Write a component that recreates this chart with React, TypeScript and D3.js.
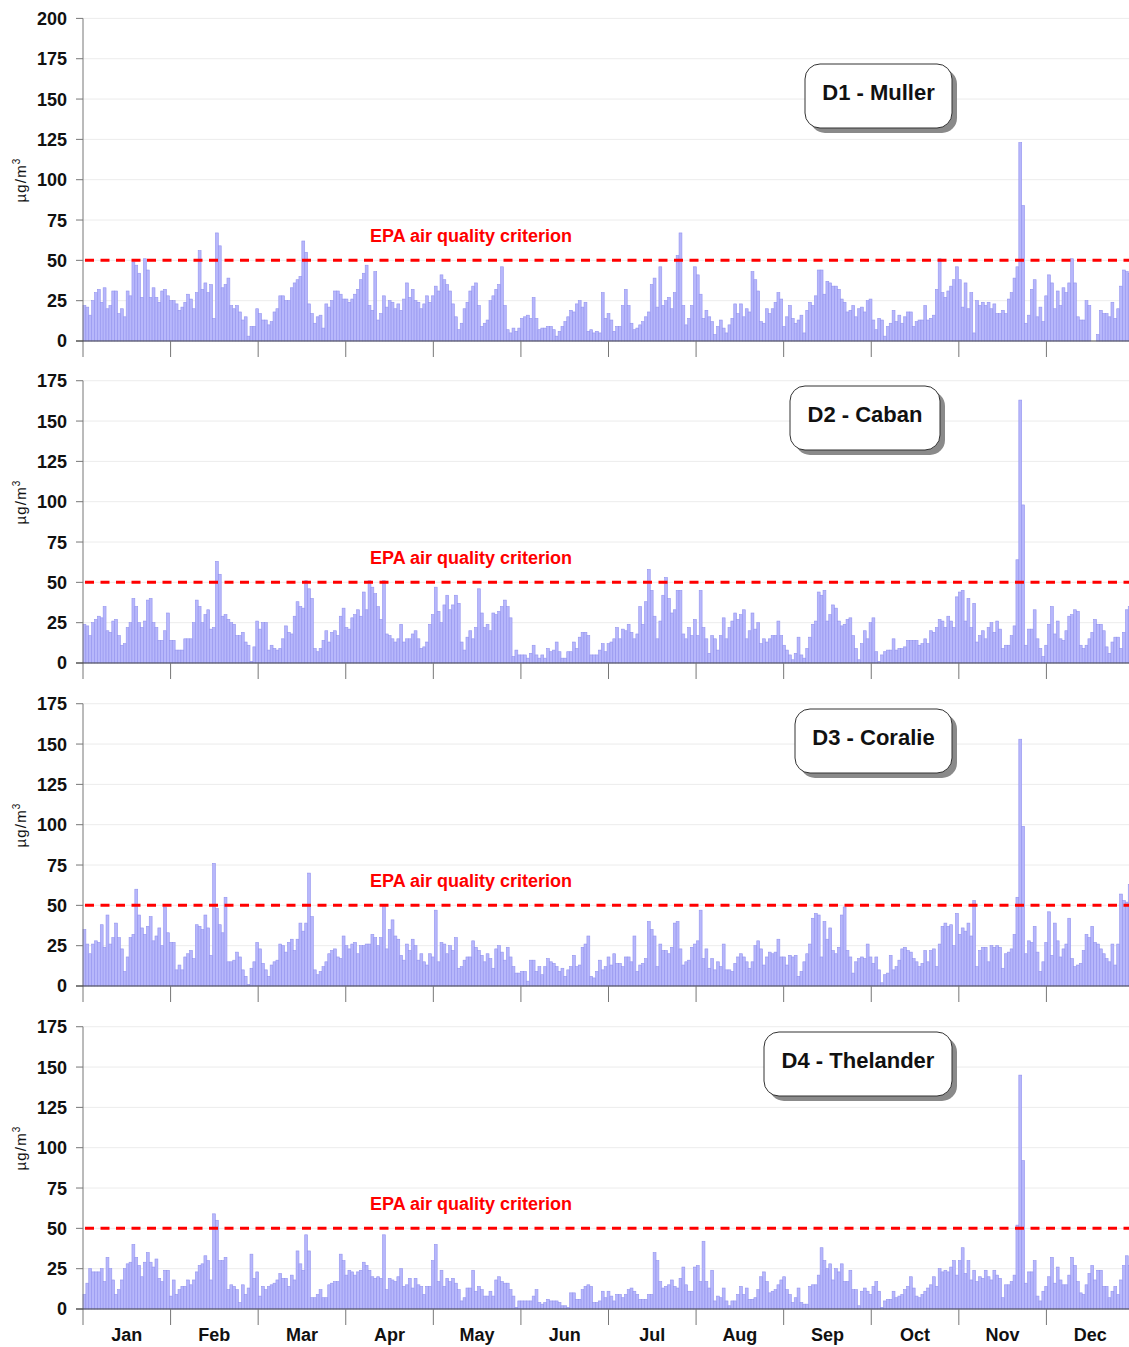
import React from 'react';
import * as d3 from 'd3';

const months = ['Jan', 'Feb', 'Mar', 'Apr', 'May', 'Jun', 'Jul', 'Aug', 'Sep', 'Oct', 'Nov', 'Dec'];
const criterion = 50;
const criterionLabel = 'EPA air quality criterion';

// daily values (µg/m3), one list per month
const muller = [
  [22, 21, 16, 25, 30, 32, 24, 33, 20, 22, 31, 31, 17, 20, 15, 31, 28, 49, 47, 42, 27, 51, 44, 27, 33, 27, 24, 31, 32, 28, 25],
  [25, 23, 19, 21, 24, 29, 26, 20, 30, 56, 32, 36, 30, 35, 14, 67, 59, 33, 35, 39, 22, 20, 22, 18, 13, 15, 3, 9, 9, 20],
  [17, 13, 13, 10, 12, 18, 20, 28, 28, 25, 25, 33, 36, 38, 40, 62, 55, 23, 17, 11, 15, 16, 8, 23, 21, 25, 31, 31, 29, 26],
  [26, 24, 26, 29, 32, 38, 42, 47, 22, 19, 43, 13, 17, 28, 21, 25, 24, 20, 23, 19, 26, 36, 27, 32, 25, 24, 20, 23, 28, 24],
  [28, 34, 31, 41, 38, 35, 31, 23, 15, 7, 11, 20, 24, 31, 34, 36, 22, 9, 11, 13, 25, 28, 32, 35, 46, 22, 7, 5, 8, 6],
  [8, 14, 15, 16, 14, 27, 14, 7, 8, 8, 9, 9, 7, 3, 6, 9, 12, 15, 19, 18, 23, 25, 21, 24, 6, 7, 5, 6, 5, 30],
  [14, 17, 13, 6, 9, 9, 22, 32, 22, 11, 7, 8, 10, 12, 15, 18, 35, 39, 21, 46, 22, 25, 27, 20, 30, 53, 67, 22, 10, 14, 22],
  [46, 41, 29, 14, 19, 15, 12, 4, 9, 13, 8, 5, 10, 14, 23, 17, 23, 15, 20, 18, 43, 38, 31, 12, 11, 20, 17, 20, 24, 30, 26],
  [9, 15, 22, 14, 11, 13, 16, 5, 19, 24, 22, 28, 44, 44, 29, 37, 36, 34, 34, 32, 26, 24, 18, 19, 22, 15, 20, 21, 18, 25],
  [26, 13, 7, 14, 13, 3, 9, 11, 19, 12, 16, 11, 15, 18, 18, 9, 12, 13, 13, 22, 13, 14, 16, 32, 51, 30, 27, 31, 34, 38, 46],
  [38, 21, 36, 20, 30, 5, 25, 22, 24, 22, 24, 20, 23, 17, 17, 19, 17, 26, 30, 39, 46, 123, 84, 11, 16, 32, 38, 15, 21, 12, 28],
  [41, 36, 20, 31, 22, 33, 30, 36, 51, 36, 15, 13, 13, 25, 22, 0, 0, 4, 19, 17, 17, 15, 24, 14, 20, 34, 44, 43, 42, 42, 40],
];

const caban = [
  [24, 23, 17, 25, 27, 29, 28, 35, 20, 19, 26, 27, 17, 11, 12, 22, 25, 40, 35, 25, 22, 26, 39, 40, 25, 22, 14, 14, 20, 31, 14],
  [14, 8, 8, 8, 15, 15, 15, 25, 39, 35, 25, 30, 33, 21, 22, 63, 55, 29, 30, 27, 25, 24, 17, 17, 19, 13, 11, 1, 10, 26],
  [21, 25, 25, 8, 11, 9, 8, 9, 15, 23, 19, 18, 29, 38, 35, 34, 51, 46, 40, 9, 7, 9, 14, 20, 13, 19, 20, 17, 29, 34],
  [22, 21, 28, 30, 33, 29, 44, 33, 51, 47, 43, 35, 27, 51, 18, 17, 15, 13, 15, 24, 13, 15, 15, 18, 20, 15, 9, 10, 13, 24],
  [30, 47, 32, 25, 36, 42, 33, 36, 42, 37, 13, 8, 16, 20, 15, 22, 46, 31, 22, 24, 20, 31, 30, 32, 35, 39, 35, 28, 4, 8],
  [5, 5, 5, 3, 6, 11, 5, 3, 5, 3, 9, 7, 8, 13, 7, 3, 3, 7, 7, 13, 9, 16, 19, 19, 17, 5, 5, 5, 8, 12],
  [7, 12, 13, 15, 22, 15, 21, 20, 24, 19, 15, 18, 35, 24, 38, 58, 45, 29, 15, 26, 42, 53, 40, 31, 33, 45, 45, 18, 15, 22, 17],
  [27, 17, 45, 22, 15, 6, 17, 15, 8, 17, 28, 15, 22, 26, 31, 27, 30, 33, 15, 20, 31, 21, 25, 12, 15, 13, 15, 17, 17, 26, 17],
  [11, 8, 5, 2, 6, 16, 5, 3, 9, 16, 24, 26, 44, 42, 45, 26, 30, 36, 34, 26, 23, 24, 27, 28, 17, 9, 2, 12, 20, 15],
  [25, 28, 7, 1, 5, 7, 8, 8, 15, 8, 9, 9, 10, 14, 14, 14, 14, 11, 12, 15, 12, 20, 19, 22, 27, 26, 22, 29, 26, 22, 41],
  [44, 45, 26, 40, 22, 37, 13, 17, 20, 15, 22, 25, 19, 26, 21, 9, 11, 11, 17, 23, 64, 163, 98, 11, 21, 21, 33, 15, 9, 4, 11],
  [24, 35, 18, 26, 15, 14, 20, 29, 30, 33, 32, 11, 9, 11, 15, 19, 27, 24, 24, 20, 10, 6, 13, 16, 16, 9, 19, 33, 35, 30, 27],
];

const coralie = [
  [35, 26, 20, 26, 28, 27, 38, 24, 44, 26, 30, 39, 30, 23, 9, 18, 30, 32, 60, 44, 36, 32, 37, 43, 28, 31, 36, 25, 49, 33, 27],
  [27, 10, 13, 10, 18, 20, 22, 17, 38, 37, 35, 44, 36, 19, 76, 48, 38, 33, 55, 15, 15, 16, 21, 18, 10, 6, 1, 11, 15, 27],
  [23, 14, 10, 6, 13, 15, 16, 26, 25, 21, 27, 29, 22, 29, 39, 34, 39, 70, 43, 10, 7, 9, 12, 15, 20, 22, 23, 18, 17, 31],
  [25, 23, 26, 27, 20, 25, 25, 26, 26, 32, 30, 25, 30, 50, 23, 35, 41, 31, 29, 19, 16, 26, 22, 29, 25, 16, 20, 15, 13, 20],
  [18, 47, 15, 27, 26, 20, 25, 22, 30, 11, 12, 16, 18, 18, 28, 24, 22, 19, 15, 20, 17, 11, 23, 25, 21, 16, 24, 18, 12, 8],
  [8, 9, 9, 3, 16, 16, 9, 12, 7, 12, 17, 15, 14, 12, 9, 11, 6, 10, 12, 19, 12, 13, 24, 26, 31, 6, 5, 9, 16, 10],
  [12, 18, 13, 20, 14, 14, 12, 18, 18, 15, 31, 9, 13, 14, 17, 40, 35, 31, 12, 26, 22, 22, 20, 24, 39, 40, 23, 13, 15, 16, 24],
  [26, 28, 47, 17, 23, 11, 17, 10, 15, 12, 26, 10, 10, 9, 14, 18, 20, 18, 15, 11, 15, 25, 28, 23, 13, 18, 21, 20, 21, 29, 18],
  [18, 13, 19, 18, 19, 6, 9, 15, 20, 26, 42, 45, 44, 18, 40, 29, 36, 22, 20, 24, 44, 49, 22, 18, 8, 15, 17, 18, 17, 26],
  [18, 14, 18, 10, 2, 7, 8, 19, 10, 12, 16, 23, 24, 22, 21, 17, 15, 12, 14, 22, 15, 22, 23, 12, 26, 37, 39, 37, 38, 25, 45],
  [32, 36, 34, 39, 31, 53, 12, 22, 24, 24, 15, 25, 24, 25, 24, 11, 20, 21, 23, 32, 55, 153, 99, 20, 28, 27, 37, 21, 9, 15, 27],
  [46, 19, 39, 28, 18, 23, 26, 42, 17, 12, 13, 14, 22, 32, 30, 37, 27, 26, 23, 20, 17, 15, 26, 13, 26, 57, 53, 52, 63],
];

const thelander = [
  [9, 16, 25, 23, 23, 23, 25, 17, 32, 25, 18, 9, 12, 18, 25, 28, 29, 40, 32, 27, 20, 29, 35, 29, 26, 31, 19, 17, 24, 24, 8],
  [18, 9, 12, 14, 14, 18, 15, 18, 23, 27, 28, 33, 30, 18, 59, 55, 30, 30, 32, 12, 15, 14, 12, 4, 15, 9, 13, 34, 19, 23],
  [8, 14, 12, 14, 15, 16, 18, 22, 19, 19, 14, 21, 18, 36, 28, 24, 46, 36, 7, 7, 9, 12, 7, 7, 15, 16, 17, 17, 34, 30],
  [21, 24, 23, 21, 23, 24, 29, 27, 24, 20, 19, 20, 19, 46, 12, 19, 18, 17, 20, 25, 14, 15, 19, 13, 19, 15, 14, 9, 14, 14],
  [30, 40, 17, 24, 14, 19, 17, 19, 16, 12, 5, 7, 13, 13, 24, 11, 14, 12, 8, 8, 11, 8, 18, 20, 17, 16, 16, 12, 8, 1, 5],
  [5, 5, 5, 5, 8, 12, 4, 3, 4, 6, 5, 5, 5, 4, 2, 2, 1, 10, 10, 6, 6, 12, 14, 15, 14, 4, 4, 5, 11, 7],
  [11, 8, 5, 9, 9, 7, 9, 12, 13, 11, 9, 6, 6, 6, 9, 9, 35, 30, 17, 13, 14, 15, 18, 14, 13, 19, 26, 15, 11, 11, 26],
  [27, 17, 42, 17, 13, 24, 5, 8, 7, 13, 5, 2, 5, 5, 9, 14, 9, 13, 6, 6, 7, 12, 20, 23, 17, 10, 11, 12, 15, 18, 20],
  [12, 9, 4, 7, 13, 4, 3, 3, 14, 15, 15, 21, 38, 30, 25, 28, 18, 25, 23, 28, 17, 17, 24, 12, 12, 2, 11, 13, 11, 9],
  [14, 17, 11, 1, 5, 6, 6, 11, 7, 8, 9, 12, 14, 20, 13, 8, 7, 9, 11, 13, 15, 20, 14, 25, 23, 24, 23, 26, 30, 21, 30],
  [38, 22, 30, 18, 24, 17, 20, 19, 24, 20, 18, 24, 21, 19, 7, 15, 15, 17, 21, 52, 145, 92, 16, 23, 23, 30, 8, 5, 11, 14, 20],
  [32, 16, 26, 18, 15, 15, 21, 32, 27, 17, 10, 9, 15, 22, 27, 18, 24, 24, 14, 14, 7, 11, 14, 9, 18, 27, 33, 27, 29],
];

// layout of the four stacked panels
const panels = [
  { title: 'D1 - Muller', values: muller, yMax: 200, bottom: 341, boxX: 805, boxW: 147 },
  { title: 'D2 - Caban', values: caban, yMax: 175, bottom: 663, boxX: 790, boxW: 150 },
  { title: 'D3 - Coralie', values: coralie, yMax: 175, bottom: 986, boxX: 795, boxW: 157 },
  { title: 'D4 - Thelander', values: thelander, yMax: 175, bottom: 1309, boxX: 764, boxW: 188 },
];

const W = 1129;
const H = 1347;
const left = 83;
const right = 1134;
const pxPerUnit = 1.613;
const font = '"Liberation Sans", Arial, Helvetica, sans-serif';

const x = d3.scaleLinear().domain([0, 365]).range([left, right]);
const monthTicks = d3.range(0, 13).map((m) => (365 * m) / 12);

const Panel = ({ p, showMonths }) => {
  const days = p.values.flat();
  const y = d3
    .scaleLinear()
    .domain([0, p.yMax])
    .range([p.bottom, p.bottom - p.yMax * pxPerUnit]);
  const yTicks = d3.range(0, p.yMax + 1, 25);
  const bw = x(1) - x(0);
  const y0 = y(0);
  const boxTop = p.bottom - 277;

  return (
    <g>
      {/* grid */}
      {yTicks.slice(1).map((t) => (
        <line key={'g' + t} x1={left} x2={right} y1={y(t)} y2={y(t)} stroke="#ececec" strokeWidth={1} />
      ))}

      {/* daily bars */}
      {days.map((v, i) =>
        v > 0 ? (
          <rect
            key={i}
            x={x(i)}
            y={y(v)}
            width={bw}
            height={y0 - y(v)}
            fill="#b7b7fb"
            stroke="#9393ee"
            strokeWidth={0.6}
          />
        ) : null
      )}

      {/* criterion */}
      <line
        x1={left + 2}
        x2={right}
        y1={y(criterion)}
        y2={y(criterion)}
        stroke="#ff0000"
        strokeWidth={3}
        strokeDasharray="9,6.5"
      />
      <text x={370} y={y(criterion) - 18} fill="#ff0000" fontFamily={font} fontWeight="bold" fontSize={18}>
        {criterionLabel}
      </text>

      {/* y axis */}
      <line x1={left} x2={left} y1={y(p.yMax)} y2={y0 + 16} stroke="#777" strokeWidth={1} />
      {yTicks.map((t) => (
        <g key={'t' + t}>
          <line x1={left - 7} x2={left} y1={y(t)} y2={y(t)} stroke="#777" strokeWidth={1} />
          <text
            x={67}
            y={y(t)}
            dy="0.36em"
            textAnchor="end"
            fontFamily={font}
            fontWeight="bold"
            fontSize={18}
            fill="#111"
          >
            {t}
          </text>
        </g>
      ))}
      <text
        transform={`translate(26,${p.bottom - 161}) rotate(-90)`}
        textAnchor="middle"
        fontFamily={font}
        fontSize={15}
        letterSpacing={1.2}
        fill="#111"
      >
        µg/m
        <tspan dy={-6} fontSize={10}>
          3
        </tspan>
      </text>

      {/* x axis */}
      <line x1={left - 7} x2={right} y1={y0} y2={y0} stroke="#444" strokeWidth={1.2} />
      {monthTicks.slice(1).map((d, i) => (
        <line key={'m' + i} x1={x(d)} x2={x(d)} y1={y0} y2={y0 + 16} stroke="#777" strokeWidth={1} />
      ))}
      {showMonths &&
        months.map((m, i) => (
          <text
            key={m}
            x={(x(monthTicks[i]) + x(monthTicks[i + 1])) / 2}
            y={y0 + 32}
            textAnchor="middle"
            fontFamily={font}
            fontWeight="bold"
            fontSize={18}
            fill="#111"
          >
            {m}
          </text>
        ))}

      {/* station label */}
      <rect x={p.boxX + 5} y={boxTop + 5} width={p.boxW} height={64} rx={15} fill="#8a8a8a" />
      <rect x={p.boxX} y={boxTop} width={p.boxW} height={64} rx={15} fill="#fff" stroke="#333" strokeWidth={1} />
      <text
        x={p.boxX + p.boxW / 2}
        y={boxTop + 36}
        textAnchor="middle"
        fontFamily={font}
        fontWeight="bold"
        fontSize={22}
        fill="#111"
      >
        {p.title}
      </text>
    </g>
  );
};

export default function App() {
  return (
    <svg
      width={W}
      height={H}
      style={{ position: 'absolute', left: 0, top: 0, background: '#fff' }}
    >
      <rect width={W} height={H} fill="#fff" />
      {panels.map((p, i) => (
        <Panel key={p.title} p={p} showMonths={i === panels.length - 1} />
      ))}
    </svg>
  );
}
